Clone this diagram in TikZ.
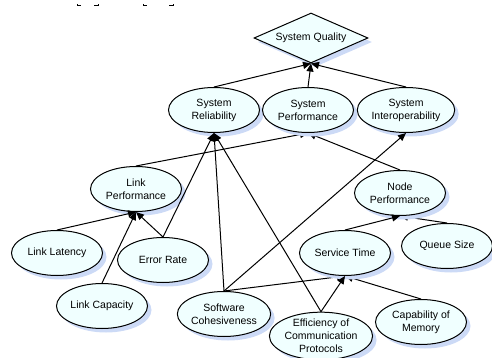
\documentclass[tikz,border=0pt]{standalone}
\usepackage{fontspec}
\setmainfont{Liberation Sans}
\usepackage{tikz}
\usetikzlibrary{arrows.meta,shapes.geometric,shadows}
\pgfdeclarelayer{back}
\pgfsetlayers{back,main}
\definecolor{goalfill}{RGB}{240,255,255}
\definecolor{goalshade}{RGB}{204,218,246}

\begin{document}
\begin{tikzpicture}[x=1pt,y=-1pt,
  font=\fontsize{10.5}{13}\selectfont,
  goal/.style={ellipse,draw,line width=1pt,fill=goalfill,minimum width=91pt,minimum height=45pt,inner sep=0pt,align=center,
    drop shadow={shadow xshift=4pt,shadow yshift=-4pt,fill=goalshade,opacity=1}},
  topgoal/.style={goal,diamond,aspect=2.3,minimum width=114pt,minimum height=50pt},
  arr/.style={-{Triangle[length=8pt,width=7pt]},line width=1pt}]
\useasboundingbox (0,0) rectangle (492,358);
\draw[line width=1pt] (77,4)--(77,6)--(81,6) (94,6)--(98,6)--(98,4);
\draw[line width=1pt] (143,4)--(143,6)--(147,6) (169,6)--(173,6)--(173,4);
\node[topgoal] (qual) at (311,38) {System Quality};
\node[goal] (rel) at (214,110) {System\\Reliability};
\node[goal] (sperf) at (308,110) {System\\Performance};
\node[goal] (inter) at (406,110) {System\\Interoperability};
\node[goal] (lperf) at (136,189) {Link\\Performance};
\node[goal] (nperf) at (400,193) {Node\\Performance};
\node[goal] (latency) at (57,253) {Link Latency};
\node[goal] (error) at (163,260) {Error Rate};
\node[goal] (service) at (345,253) {Service Time};
\node[goal] (queue) at (447,246) {Queue Size};
\node[goal] (capacity) at (102,306) {Link Capacity};
\node[goal] (cohes) at (224,314) {Software\\Cohesiveness};
\node[goal] (effic) at (321,336) {Efficiency of\\Communication\\Protocols};
\node[goal] (memory) at (421,322) {Capability of\\Memory};
\begin{pgfonlayer}{back}
\draw[arr] (lperf.north) -- (sperf.south);
\draw[arr] (nperf.north) -- (sperf.south);
\draw[arr] (queue.north) -- (nperf.south);
\draw[arr] (cohes.north) -- (service.south);
\draw[arr] (memory.north) -- (service.south);
\end{pgfonlayer}
\draw[arr] (rel.north) -- (qual.south);
\draw[arr] (sperf.north) -- (qual.south);
\draw[arr] (inter.north) -- (qual.south);
\draw[arr] (error.north) -- (rel.south);
\draw[arr] (cohes.north) -- (rel.south);
\draw[arr] (effic.north) -- (rel.south);
\draw[arr] (cohes.north) -- (inter.south);
\draw[arr] (latency.north) -- (lperf.south);
\draw[arr] (capacity.north) -- (lperf.south);
\draw[arr] (error.north) -- (lperf.south);
\draw[arr] (service.north) -- (nperf.south);
\draw[arr] (effic.north) -- (service.south);
\end{tikzpicture}
\end{document}
